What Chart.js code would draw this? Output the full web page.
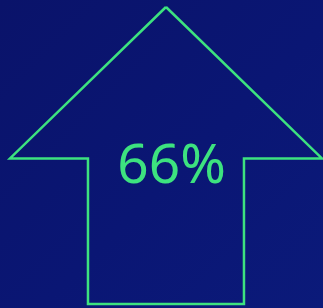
<!DOCTYPE html>
<html>
<head>
<meta charset="utf-8">
<script src="https://cdn.jsdelivr.net/npm/chart.js@4"></script>
<style>
  html, body { margin: 0; padding: 0; }
  body {
    width: 323px; height: 308px; overflow: hidden;
    background: linear-gradient(135deg, #0a136a 0%, #0a1674 55%, #0b1a7a 100%);
  }
  #wrap { width: 323px; height: 308px; position: relative; }
</style>
</head>
<body>
<div id="wrap"><canvas id="chart"></canvas></div>
<script>
// arrow outline, in percent of the arrow's width / height
const arrowX = [50, 0, 25, 25, 75, 75, 100, 50];
const arrowY = [100, 49, 49, 0, 0, 49, 49, 100];
const percentValue = [66];

const green = "#3de27f";

const points = arrowX.map((x, i) => ({ x: x, y: arrowY[i] }));

const centerLabel = {
  id: "centerLabel",
  afterDatasetsDraw(chart) {
    const ctx = chart.ctx;
    const xs = chart.scales.x, ys = chart.scales.y;
    ctx.save();
    ctx.fillStyle = green;
    ctx.font = "55px 'Noto Sans'";
    ctx.textAlign = "center";
    ctx.textBaseline = "alphabetic";
    ctx.fillText(percentValue[0] + "%", xs.getPixelForValue(51.8), ys.getPixelForValue(40.7));
    ctx.restore();
  },
};

new Chart(document.getElementById("chart"), {
  type: "scatter",
  data: {
    datasets: [
      {
        data: points,
        showLine: true,
        borderColor: green,
        borderWidth: 2.5,
        pointRadius: 0,
        fill: false,
        tension: 0,
        clip: false,
      },
    ],
  },
  options: {
    responsive: true,
    maintainAspectRatio: false,
    animation: false,
    layout: { padding: 0 },
    plugins: { legend: { display: false }, tooltip: { enabled: false } },
    scales: {
      x: { display: false, min: -3.2, max: 100.33 },
      y: { display: false, min: -1.35, max: 102.36 },
    },
  },
  plugins: [centerLabel],
});
</script>
</body>
</html>
